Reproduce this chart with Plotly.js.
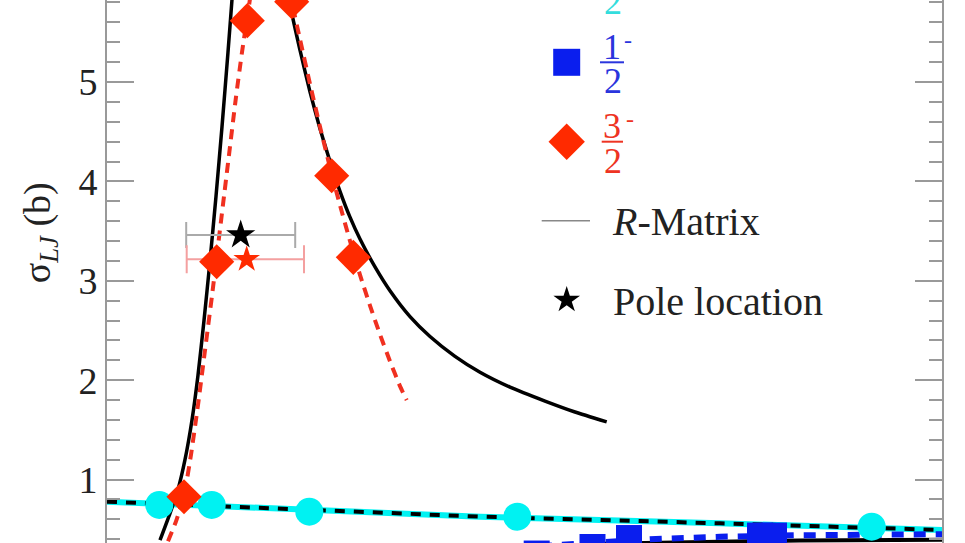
<!DOCTYPE html>
<html><head><meta charset="utf-8">
<script src="https://cdn.plot.ly/plotly-3.0.1.min.js"></script>
<style>html,body{margin:0;padding:0;background:#fff}#chart{width:965px;height:543px}</style>
</head><body><div id="chart"></div><script>
// Data (x: horizontal position units, y: sigma_LJ in barn)
const x_p32 = [184, 216.7, 247.3, 291.7, 331.7, 353.3];
const y_p32 = [0.828, 3.192, 5.617, 5.808, 4.057, 3.236];

const x_p12 = [159.3, 211.7, 309.3, 517.3, 871.7];
const y_p12 = [0.745, 0.745, 0.677, 0.627, 0.526];

const x_m12 = [536.7, 592.5, 629, 760, 774];
const y_m12 = [0.256, 0.322, 0.412, 0.437, 0.437];

// 3/2- R-matrix (solid black)
const x_rm32 = [160, 170, 178, 185, 192, 198, 204, 210, 216, 222, 228, 232, 236, 245, 260, 275, 284, 289, 300, 310, 320, 330, 340, 350, 360, 375, 390, 410, 430, 455, 480, 510, 545, 575, 606.7];
const y_rm32 = [0.39, 0.66, 0.90, 1.20, 1.60, 2.05, 2.60, 3.20, 3.85, 4.55, 5.30, 5.83, 6.35, 7.2, 7.6, 7.2, 6.3, 5.83, 5.32, 4.90, 4.53, 4.20, 3.90, 3.64, 3.42, 3.14, 2.90, 2.64, 2.44, 2.24, 2.08, 1.93, 1.79, 1.68, 1.58];

// 3/2- fit (red dashed)
const x_fit32 = [168, 176, 184, 191, 198, 205, 212, 218, 224, 230, 236, 242, 248, 254, 270, 282, 290, 300, 310, 320, 330, 340, 350, 360, 370, 380, 390, 400, 406.7];
const y_fit32 = [0.38, 0.58, 0.84, 1.25, 1.75, 2.30, 2.85, 3.35, 3.85, 4.35, 4.85, 5.30, 5.70, 6.05, 6.3, 6.2, 5.88, 5.43, 4.98, 4.55, 4.14, 3.76, 3.40, 3.06, 2.75, 2.46, 2.19, 1.94, 1.80];

// 1/2+ curves (cyan / black dashed)
const x_fit12p = [107, 360, 480, 720, 942];
const y_fit12p = [0.778, 0.677, 0.627, 0.560, 0.493];

// 1/2- curves (blue dashed, black solid)
const x_fit12m = [540, 650, 720, 800, 942];
const y_fit12m = [0.33, 0.40, 0.425, 0.44, 0.45];
const x_rm12m = [600, 700, 800, 942];
const y_rm12m = [0.355, 0.375, 0.387, 0.395];

// Pole locations
const x_pole = [240.7];
const y_pole = [3.461];
const xerr_pole = [54.5];
const x_pole_fit = [246.7];
const y_pole_fit = [3.216];
const xerr_pole_fit_minus = [60];
const xerr_pole_fit_plus = [57.3];

const yTicks = [1, 2, 3, 4, 5];

const RED = '#ff2a00', CYAN = '#00f2f2', BLUE = '#0a1eee';
const serif = 'Liberation Serif, Times New Roman, serif';

const traces = [
  {x: x_fit12p, y: y_fit12p, mode: 'lines', line: {color: CYAN, width: 6}},
  {x: x_fit12p, y: y_fit12p, mode: 'lines', line: {color: '#000', width: 4, dash: '10px,9px'}},
  {x: x_rm12m, y: y_rm12m, mode: 'lines', line: {color: '#000', width: 4}},
  {x: x_fit12m, y: y_fit12m, mode: 'lines', line: {color: BLUE, width: 6, dash: '12px,10px'}},
  {x: x_rm32, y: y_rm32, mode: 'lines', line: {color: '#000', width: 3.5, shape: 'spline', smoothing: 0.5}},
  {x: x_fit32, y: y_fit32, mode: 'lines', line: {color: '#f03020', width: 4, dash: '10px,7px', shape: 'spline', smoothing: 0.5}},
  {x: x_pole, y: y_pole, mode: 'markers', marker: {symbol: 'star', size: 22, color: '#000'},
   error_x: {type: 'data', array: xerr_pole, color: '#aaaaaa', thickness: 2, width: 13}},
  {x: x_pole_fit, y: y_pole_fit, mode: 'markers', marker: {symbol: 'star', size: 20, color: RED},
   error_x: {type: 'data', symmetric: false, array: xerr_pole_fit_plus, arrayminus: xerr_pole_fit_minus, color: '#f4a0a0', thickness: 2, width: 14}},
  {x: x_p12, y: y_p12, mode: 'markers', marker: {symbol: 'circle', size: 28, color: CYAN}},
  {x: x_m12, y: y_m12, mode: 'markers', marker: {symbol: 'square', size: 26, color: BLUE}},
  {x: x_p32, y: y_p32, mode: 'markers', marker: {symbol: 'diamond', size: 27, color: RED}},
  // legend keys (pixel frame)
  {x: [566.7], y: [62.3], xaxis: 'x2', yaxis: 'y2', mode: 'markers', marker: {symbol: 'square', size: 27, color: BLUE}, cliponaxis: false},
  {x: [566.7], y: [141.7], xaxis: 'x2', yaxis: 'y2', mode: 'markers', marker: {symbol: 'diamond', size: 28, color: RED}, cliponaxis: false},
  {x: [566.7], y: [300], xaxis: 'x2', yaxis: 'y2', mode: 'markers', marker: {symbol: 'star', size: 20, color: '#000'}, cliponaxis: false}
];

function txt(x, y, text, color, size, xanchor, h) {
  const a = {xref: 'x2', yref: 'y2', x: x, y: y, text: text, showarrow: false,
    xanchor: xanchor || 'center', yanchor: 'middle', font: {family: serif, size: size, color: color}};
  if (h) a.height = h;
  return a;
}

const annotations = [
  txt(613, 2, '2', '#33dddd', 36, 'center', 28),
  txt(612, 47, '1', '#2a35dd', 36, 'center', 28),
  txt(612.5, 81, '2', '#2a35dd', 36, 'center', 28),
  txt(628, 40, '-', '#2a35dd', 24),
  txt(612, 126, '3', '#ee3322', 36, 'center', 28),
  txt(612.5, 161, '2', '#ee3322', 36, 'center', 28),
  txt(630, 119, '-', '#ee3322', 24),
  txt(610, 221, '<i>R</i>-Matrix', '#222', 40, 'left'),
  txt(611, 301, 'Pole location', '#222', 40, 'left'),
  {xref: 'paper', yref: 'paper', x: -0.08, xanchor: 'center', y: 1 - 233 / 543, yanchor: 'middle',
   text: 'σ<sub><i>LJ</i></sub> (b)', textangle: -90, showarrow: false,
   font: {family: serif, size: 38, color: '#222'}}
];

const shapes = [
  {type: 'line', xref: 'x2', yref: 'y2', x0: 600, x1: 624, y0: 62.3, y1: 62.3, line: {color: '#2a35dd', width: 2}},
  {type: 'line', xref: 'x2', yref: 'y2', x0: 601.7, x1: 623, y0: 141.7, y1: 141.7, line: {color: '#ee3322', width: 2}},
  {type: 'line', xref: 'x2', yref: 'y2', x0: 541.7, x1: 590, y0: 220.7, y1: 220.7, line: {color: '#888', width: 1.5}}
];

const layout = {
  width: 965, height: 543,
  margin: {l: 107, r: 23, t: 0, b: 0, pad: 0},
  paper_bgcolor: '#fff', plot_bgcolor: '#fff',
  showlegend: false,
  font: {family: serif, color: '#222'},
  xaxis: {range: [107, 942], visible: false, fixedrange: true},
  yaxis: {range: [0.362, 5.825], tickvals: yTicks, ticktext: yTicks.map(String),
    ticks: 'inside', ticklen: 27, tickwidth: 2, tickcolor: '#999',
    showline: true, linecolor: '#999', linewidth: 2, mirror: 'ticks',
    showgrid: false, zeroline: false, tickfont: {family: serif, size: 38, color: '#222'},
    minor: {dtick: 0.2, tick0: 0, ticks: 'inside', ticklen: 13, tickwidth: 2, tickcolor: '#999', showgrid: false}},
  xaxis2: {overlaying: 'x', range: [107, 942], visible: false},
  yaxis2: {overlaying: 'y', range: [543, 0], visible: false},
  annotations: annotations,
  shapes: shapes
};

Plotly.newPlot('chart', traces, layout, {displayModeBar: false, staticPlot: true});
</script></body></html>
